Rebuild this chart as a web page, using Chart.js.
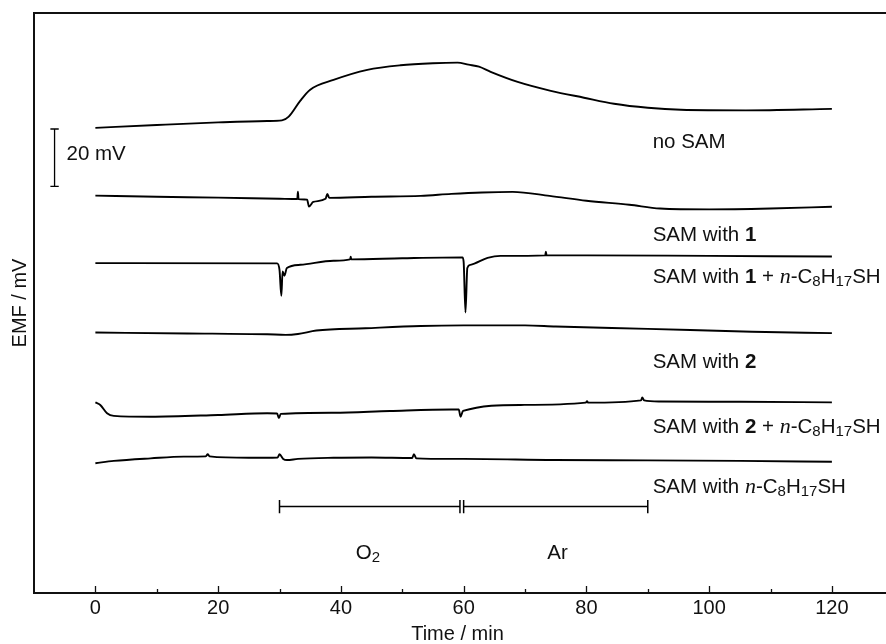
<!DOCTYPE html>
<html>
<head>
<meta charset="utf-8">
<script src="https://cdn.jsdelivr.net/npm/chart.js@4"></script>
<style>
  html, body { margin: 0; padding: 0; background: #fff; }
  #wrap { width: 886px; height: 644px; position: relative; }
</style>
</head>
<body>
<div id="wrap"><canvas id="emf"></canvas></div>
<script>
// time (min), EMF (mV) -- every trace is shifted on the EMF axis for display
const noSam = [[0, 162.0], [10, 163.0], [20, 163.9], [28, 164.4], [30.4, 164.6], [31.5, 165.9], [33.4, 171.5], [35, 175.3],
  [38.8, 178.7], [44.3, 182.2], [49.7, 183.8], [55, 184.5], [59, 184.7], [60.8, 184.0], [62.5, 183.3], [64.4, 181.5],
  [68.8, 178.0], [74.2, 174.9], [79.6, 172.5], [84.5, 170.4], [90, 169.0], [95.4, 168.3], [106, 168.1], [120, 168.6]];

const sam1 = [[0, 138.4], [10, 138.0], [20, 137.7], [30, 137.3], [32.9, 137.2], [33, 139.8], [33.1, 137.2], [34.5, 137.0],
  [34.8, 134.6], [35.5, 136.2], [37.5, 137.3], [37.8, 139.0], [38.1, 137.6], [45, 138.0], [53, 138.3], [58, 139.0],
  [63, 139.5], [68, 139.7], [74, 138.3], [80, 136.6], [87, 135.2], [92, 133.9], [100, 133.6], [110, 133.9], [120, 134.5]];

const sam1Oct = [[0, 114.9], [29.6, 114.8], [30.0, 112.5], [30.3, 103.5], [30.5, 112.0], [30.8, 110.5], [31.2, 113.2],
  [33.4, 114.3], [38.8, 115.7], [41.5, 116.2], [41.6, 117.1], [41.7, 116.2], [50, 116.6], [59.8, 116.9], [60.0, 115.3],
  [60.3, 97.7], [60.6, 113.2], [61.1, 114.3], [63.9, 116.7], [66, 117.4], [73.3, 117.6], [73.4, 118.9], [73.5, 117.6],
  [80, 117.6], [100, 117.4], [120, 117.2]];

const sam2 = [[0, 90.7], [15, 90.4], [28, 90.1], [31, 89.9], [33, 90.2], [36, 91.4], [44, 92.2], [53, 93.0], [60, 93.2],
  [70, 93.2], [75, 92.8], [90, 92.0], [107, 91.0], [120, 90.5]];

const sam2Oct = [[0, 66.4], [0.8, 65.5], [1.9, 62.6], [3, 61.7], [9, 61.4], [20, 62.0], [28, 62.6], [29.6, 62.5],
  [29.9, 60.9], [30.2, 62.4], [38.8, 62.8], [48, 63.4], [58, 63.9], [59.2, 63.9], [59.5, 61.4], [59.9, 63.4],
  [69.3, 65.5], [79.9, 66.3], [80.1, 66.8], [80.3, 66.3], [88.9, 67.1], [89.1, 68.1], [89.4, 67.1], [92, 66.7],
  [105, 66.6], [120, 66.4]];

const octOnly = [[0, 45.2], [3, 46.0], [9, 46.9], [14.4, 47.5], [18, 47.6], [18.3, 48.3], [18.6, 47.6], [25, 47.1],
  [29.7, 47.2], [30, 48.3], [30.6, 46.7], [31.2, 46.3], [33, 46.7], [38.8, 47.1], [45, 47.2], [51.6, 47.0],
  [51.9, 48.3], [52.3, 46.9], [58, 46.7], [60, 46.7], [74.7, 46.3], [90, 46.2], [105, 46.0], [120, 45.7]];

const traces = [noSam, sam1, sam1Oct, sam2, sam2Oct, octOnly];
const traceNames = ['no SAM', 'SAM with **1**', 'SAM with **1** + _n_-C~8~H~17~SH', 'SAM with **2**',
  'SAM with **2** + _n_-C~8~H~17~SH', 'SAM with _n_-C~8~H~17~SH'];
const nameLevels = [156.8, 124.7, 110.1, 80.5, 57.8, 36.9];

// gas periods (min)
const gasNames = ['O~2~', 'Ar'];
const gasSpans = [[30, 59.4], [60, 90]];
const gasLevel = 30.1;

// 20 mV scale bar
const scaleBarTime = -6.65;
const scaleBarFrom = 141.6;
const scaleBarMV = 20;

const xTicks = [0, 20, 40, 60, 80, 100, 120];

const FONT = '"Liberation Sans", Arial, Helvetica, sans-serif';
const INK = '#111';

const toXY = arr => arr.map(p => ({ x: p[0], y: p[1] }));

// bracket under the traces: end caps + bar for each gas period
const bracketPts = [];
gasSpans.forEach(s => {
  bracketPts.push({ x: s[0], y: gasLevel + 2.3 }, { x: s[0], y: gasLevel - 2.3 }, { x: s[0], y: null });
  bracketPts.push({ x: s[1], y: gasLevel + 2.3 }, { x: s[1], y: gasLevel - 2.3 }, { x: s[1], y: null });
  bracketPts.push({ x: s[0], y: gasLevel }, { x: s[1], y: gasLevel }, { x: s[1], y: null });
});

const capHalf = 0.68;
const barPts = [
  { x: scaleBarTime - capHalf, y: scaleBarFrom + scaleBarMV }, { x: scaleBarTime + capHalf, y: scaleBarFrom + scaleBarMV },
  { x: scaleBarTime + capHalf, y: null },
  { x: scaleBarTime, y: scaleBarFrom + scaleBarMV }, { x: scaleBarTime, y: scaleBarFrom }, { x: scaleBarTime, y: null },
  { x: scaleBarTime - capHalf, y: scaleBarFrom }, { x: scaleBarTime + capHalf, y: scaleBarFrom }
];

const datasets = traces.map((t, i) => ({
  label: traceNames[i],
  data: toXY(t),
  borderColor: '#000',
  borderWidth: 1.9,
  pointRadius: 0,
  cubicInterpolationMode: 'monotone',
  fill: false
}));
datasets.push({ label: 'gas', data: bracketPts, borderColor: '#000', borderWidth: 1.5, pointRadius: 0, spanGaps: false });
datasets.push({ label: 'scale', data: barPts, borderColor: '#000', borderWidth: 1.3, pointRadius: 0, spanGaps: false });

// draw "a **b** _c_ ~d~" : bold, serif italic, subscript
function richText(ctx, str, x, y, align) {
  const parts = [];
  const re = /\*\*(.+?)\*\*|_(.+?)_|~(.+?)~|([^*_~]+)/g;
  let m;
  while ((m = re.exec(str))) {
    if (m[1]) parts.push({ t: m[1], f: 'bold 20.5px ' + FONT, dy: 0 });
    else if (m[2]) parts.push({ t: m[2], f: 'italic 22px "Liberation Serif", "Times New Roman", serif', dy: 0 });
    else if (m[3]) parts.push({ t: m[3], f: '15px ' + FONT, dy: 5 });
    else parts.push({ t: m[4], f: '20.5px ' + FONT, dy: 0 });
  }
  let w = 0;
  parts.forEach(p => { ctx.font = p.f; p.w = ctx.measureText(p.t).width; w += p.w; });
  let cx = align === 'center' ? x - w / 2 : x;
  ctx.textBaseline = 'middle';
  ctx.textAlign = 'left';
  parts.forEach(p => {
    ctx.font = p.f;
    ctx.fillText(p.t, cx, y + p.dy);
    cx += p.w;
  });
}

const framePlugin = {
  id: 'frame',
  afterDraw(chart) {
    const { ctx, chartArea: a, scales: { x, y } } = chart;
    ctx.save();
    ctx.strokeStyle = INK;
    ctx.fillStyle = INK;
    // top edge, and both edges run on to the page edge (no right frame)
    ctx.lineWidth = 2;
    ctx.beginPath();
    ctx.moveTo(a.left - 1, a.top);
    ctx.lineTo(chart.width, a.top);
    ctx.moveTo(a.right - 1, a.bottom);
    ctx.lineTo(chart.width, a.bottom);
    ctx.stroke();
    // inward ticks
    ctx.lineWidth = 1.3;
    for (let v = 0; v <= 120; v += 10) {
      const px = Math.round(x.getPixelForValue(v)) + 0.5;
      const len = v % 20 === 0 ? 7 : 4;
      ctx.beginPath();
      ctx.moveTo(px, a.bottom);
      ctx.lineTo(px, a.bottom - len);
      ctx.stroke();
    }
    // trace names
    traceNames.forEach((n, i) => richText(ctx, n, x.getPixelForValue(90.8), y.getPixelForValue(nameLevels[i]), 'left'));
    // gas names
    gasSpans.forEach((s, i) => {
      const mid = i === 0 ? 44.4 : 75.3;
      richText(ctx, gasNames[i], x.getPixelForValue(mid), y.getPixelForValue(gasLevel - 16.2), 'center');
    });
    // scale bar text
    richText(ctx, scaleBarMV + ' mV', x.getPixelForValue(-4.7), y.getPixelForValue(scaleBarFrom + 11), 'left');
    ctx.restore();
  }
};

new Chart(document.getElementById('emf'), {
  type: 'line',
  data: { datasets },
  options: {
    responsive: true,
    maintainAspectRatio: false,
    animation: false,
    events: [],
    layout: { padding: { top: 13, right: 0, left: 0, bottom: 0 } },
    plugins: { legend: { display: false }, tooltip: { enabled: false } },
    scales: {
      x: {
        type: 'linear',
        min: -10,
        max: 128,
        grid: { display: false, drawTicks: false },
        border: { display: true, color: INK, width: 2 },
        ticks: {
          stepSize: 10,
          autoSkip: false,
          maxRotation: 0,
          padding: 5,
          color: INK,
          font: { family: FONT, size: 20, lineHeight: 1 },
          callback: v => (xTicks.includes(v) ? String(v) : '')
        },
        title: {
          display: true,
          text: 'Time / min',
          color: INK,
          font: { family: FONT, size: 20, lineHeight: 1 },
          padding: { top: 1, bottom: 0 }
        }
      },
      y: {
        type: 'linear',
        min: 0,
        max: 202,
        grid: { display: false, drawTicks: false },
        border: { display: true, color: INK, width: 2 },
        ticks: { display: false },
        title: {
          display: true,
          text: 'EMF / mV',
          color: INK,
          font: { family: FONT, size: 20, lineHeight: 1 },
          padding: { top: 10, bottom: 4 }
        }
      }
    }
  },
  plugins: [framePlugin]
});
</script>
</body>
</html>
